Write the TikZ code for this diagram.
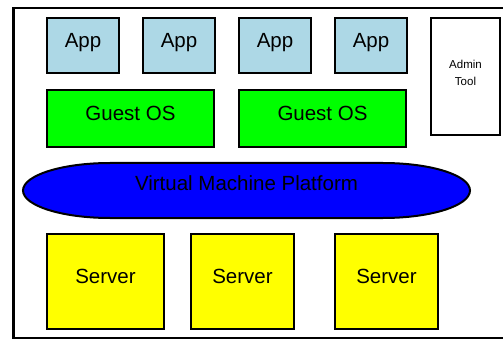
\documentclass[tikz,border=0pt]{standalone}
\usepackage{fontspec}
\setmainfont{Liberation Sans}
\definecolor{appblue}{RGB}{173,216,230}
\definecolor{osgreen}{RGB}{0,255,0}
\definecolor{vmblue}{RGB}{0,0,255}
\definecolor{srvyellow}{RGB}{255,255,0}
\tikzset{
  box/.style={draw=black, line width=2pt, rectangle, inner sep=0pt,
    text height=14pt, text depth=10pt,
    font=\fontsize{20.5}{24}\selectfont},
  appbox/.style={box, fill=appblue, minimum width=72pt, minimum height=55pt},
  osbox/.style={box, fill=osgreen, minimum width=167pt, minimum height=57pt},
  srvbox/.style={box, fill=srvyellow, minimum width=103pt, minimum height=95pt},
  adminbox/.style={draw=black, line width=2pt, fill=white, rectangle, inner sep=0pt,
    minimum width=69pt, minimum height=117pt},
  smalltext/.style={align=center, inner sep=0pt, font=\fontsize{11.5}{16.7}\selectfont},
  vmtext/.style={inner sep=0pt, text height=14pt, text depth=13pt,
    font=\fontsize{20.5}{24}\selectfont},
  vmshape/.style={draw=black, line width=2pt, fill=vmblue},
  frame/.style={draw=black, line width=2.6pt}
}
\begin{document}
\begin{tikzpicture}[x=1pt, y=-1pt]
\useasboundingbox (0,0) rectangle (503,339);
\clip (0,0) rectangle (503,339);
\fill[white] (0,0) rectangle (503,339);
% outer frame
\draw[frame] (530,8) -- (13.7,8) -- (13.7,337.8) -- (530,337.8);
% apps
\node[appbox] (app1) at (83,45.5) {App};
\node[appbox] (app2) at (179,45.5) {App};
\node[appbox] (app3) at (275,45.5) {App};
\node[appbox] (app4) at (371,45.5) {App};
% admin tool
\node[adminbox] (admin) at (465.5,76.5) {};
\node[smalltext] (admintext) at (465.5,73) {Admin\\Tool};
% guest OS
\node[osbox] (os1) at (130.5,118.5) {Guest OS};
\node[osbox] (os2) at (322.5,118.5) {Guest OS};
% virtual machine platform
\draw[vmshape] (110,163) -- (383,163) arc[start angle=90, end angle=-90, x radius=87pt, y radius=27.5pt]
  -- (110,218) arc[start angle=270, end angle=90, x radius=87pt, y radius=27.5pt] -- cycle;
\node[vmtext] (vmp) at (246.5,190.5) {Virtual Machine Platform};
% servers
\node[srvbox, minimum width=117pt] (srv1) at (105.5,281.5) {Server};
\node[srvbox] (srv2) at (242.5,281.5) {Server};
\node[srvbox] (srv3) at (386.5,281.5) {Server};
\end{tikzpicture}
\end{document}
